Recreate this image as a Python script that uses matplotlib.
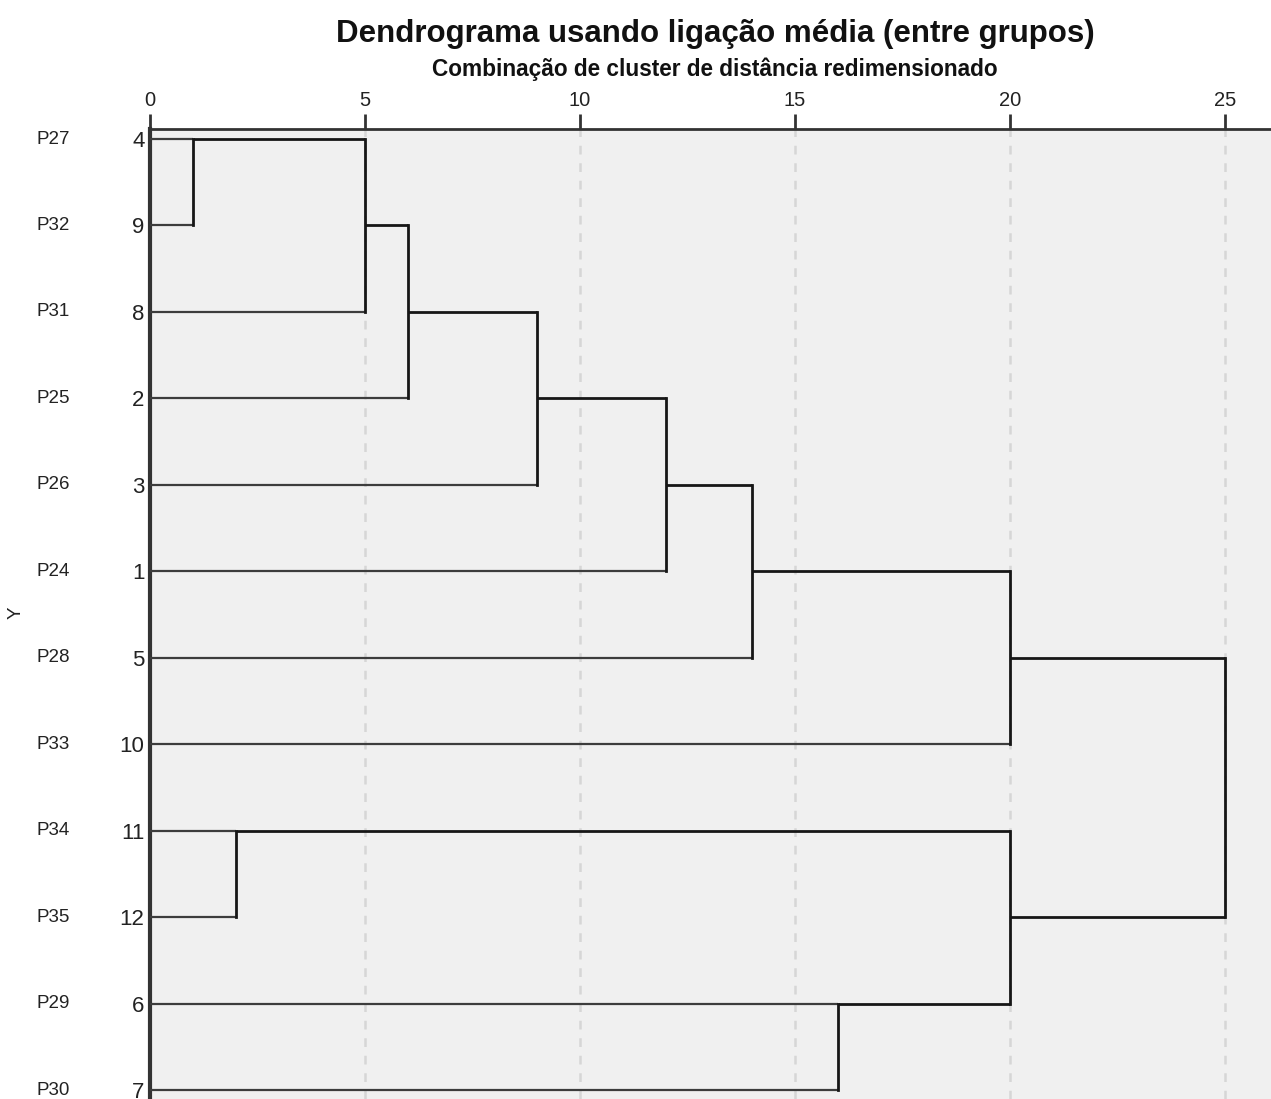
import matplotlib
matplotlib.use("Agg")
import matplotlib.pyplot as plt
from matplotlib.transforms import blended_transform_factory

# ---- data ----
row_names = ["P27", "P32", "P31", "P25", "P26", "P24", "P28", "P33", "P34", "P35", "P29", "P30"]
case_nums = ["4", "9", "8", "2", "3", "1", "5", "10", "11", "12", "6", "7"]
# merges: children ids (leaves 0..11 in display order, new clusters 12..)
merge_a = [0, 12, 13, 14, 15, 16, 17, 8, 10, 19, 18]
merge_b = [1, 2, 3, 4, 5, 6, 7, 9, 11, 20, 21]
merge_h = [1, 5, 6, 9, 12, 14, 20, 2, 16, 20, 25]
x_ticks = [0, 5, 10, 15, 20, 25]

plt.rcParams['font.family'] = ['Liberation Sans', 'DejaVu Sans']

W, H = 1271, 1099
fig = plt.figure(figsize=(W / 100, H / 100), dpi=100)
ax = fig.add_axes([150 / W, 0, 1 - 150 / W, 1 - 129 / H])
ax.set_facecolor('#f0f0f0')

n = len(row_names)
pos = {i: i for i in range(n)}
height = {i: 0.0 for i in range(n)}
for k, (a, b, h) in enumerate(zip(merge_a, merge_b, merge_h)):
    cid = n + k
    for c in (a, b):
        leaf = c < n
        ax.plot([height[c], h], [pos[c], pos[c]],
                color='#3c3c3c' if leaf else '#161616',
                lw=1.6 if leaf else 2.0, solid_capstyle='butt', zorder=3)
    ax.plot([h, h], [pos[a], pos[b]], color='#161616', lw=2.0,
            solid_capstyle='projecting', zorder=3)
    pos[cid] = (pos[a] + pos[b]) // 2
    height[cid] = h

x_right = (W - 150) / 43.0
ax.set_xlim(0, x_right)
ax.set_ylim(n - 1 + 0.104, -0.116)

for t in x_ticks[1:]:
    ax.axvline(t, color='#d6d6d6', lw=1.8, ls=(0, (3.5, 3.5)), zorder=1)

ax.xaxis.tick_top()
ax.set_xticks(x_ticks)
ax.set_xticklabels([str(t) for t in x_ticks], fontsize=14.5, color='#222222')
ax.tick_params(axis='x', direction='out', length=11, width=2, color='#333333', pad=2.5)
ax.set_yticks(range(n))
ax.set_yticklabels(case_nums, fontsize=16, color='#222222')
ax.tick_params(axis='y', length=0, pad=4)

for s in ['right', 'bottom']:
    ax.spines[s].set_visible(False)
ax.spines['top'].set_linewidth(2)
ax.spines['top'].set_color('#333333')
ax.spines['left'].set_linewidth(3)
ax.spines['left'].set_color('#333333')

tr = blended_transform_factory(fig.transFigure, ax.transData)
for i, name in enumerate(row_names):
    ax.text(37 / W, i, name, transform=tr, ha='left', va='center',
            fontsize=13.5, color='#222222')

fig.text(16 / W, 1 - 613 / H, 'Y', rotation=90, ha='center', va='center',
         fontsize=13.5, color='#222222')

fig.text(715 / W, 1 - 42 / H, 'Dendrograma usando ligação média (entre grupos)',
         ha='center', va='baseline', fontsize=22.5, fontweight='bold', color='#111111')
fig.text(715 / W, 1 - 76 / H, 'Combinação de cluster de distância redimensionado',
         ha='center', va='baseline', fontsize=16.3, fontweight='bold', color='#111111')

fig.savefig('out.png', dpi=100, facecolor='white')
